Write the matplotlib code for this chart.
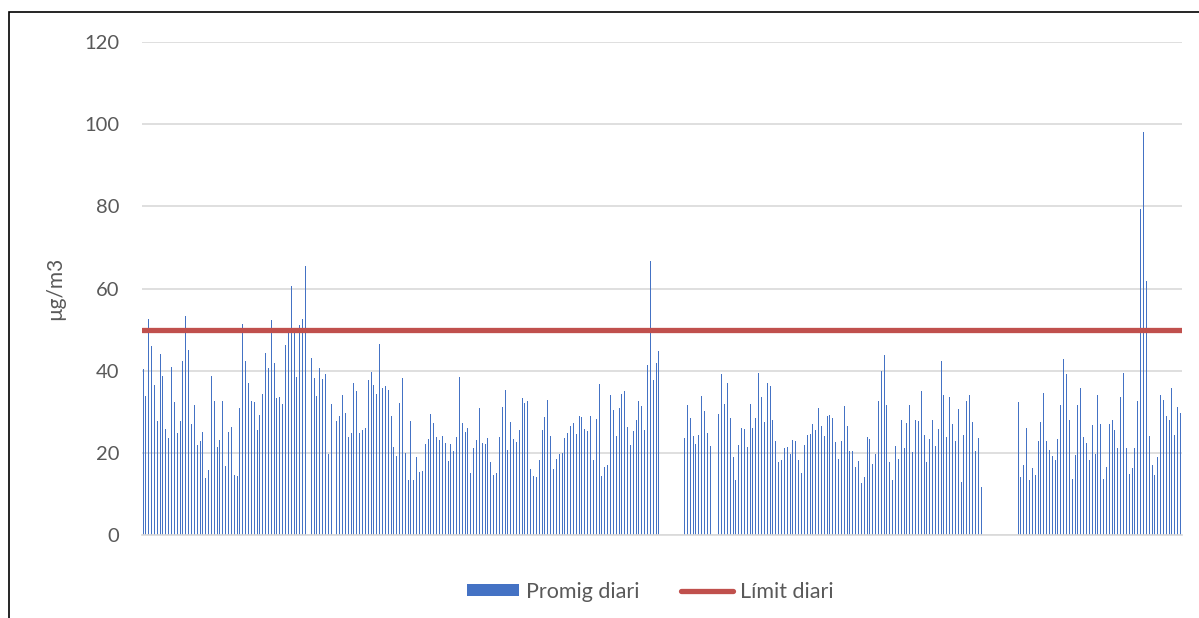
import numpy as np
import matplotlib
matplotlib.use('Agg')
import matplotlib.pyplot as plt
from matplotlib.patches import Rectangle

nan = np.nan

# daily means (ug/m3), one value per day, nan = no data
promig = [
    40.5, 33.8, 52.5, 46, 36.5, 27.7, 44, 38.8, 25.9, 23.6, 40.8, 32.3, 24.8, 27.7, 42.3, 53.3,
    45, 27.1, 31.6, 22, 22.9, 25, 13.9, 15.8, 38.7, 32.5, 21.4, 23.1, 32.6, 16.8, 25, 26.4,
    14.6, 14.4, 30.9, 51.3, 42.3,
    37.1, 32.6, 32.4, 25.5, 29.1, 34.3, 44.4, 40.6, 52.4, 41.8, 33.3, 33.6, 32, 46.3, 49.2, 60.7,
    49.5, 38.4, 51, 52.6, 65.5, nan, 43.1, 38.1, 33.8, 40.7, 38, 39.1, 19.8, 32, 32.6, 27.7,
    29, 34, 29.7, 23.8,
    24.8, 36.9, 35, 24.8, 25.5, 26, 37.7, 39.7, 36.4, 34.3, 46.5, 35.8, 36.3, 35.4, 28.9, 21.3,
    19.2, 32.1, 38.3, 20, 13.5, 27.7, 13.5, 19, 15.3, 15.6, 22.1, 23.3, 29.4, 27.3, 23.8, 23.2,
    24.1, 22.5, 18.1, 22.1,
    20.4, 23.8, 38.4, 27.3, 25, 26, 15.2, 21.1, 23.1, 30.9, 22.5, 22.1, 23.6, 17.8, 14.7, 15.1,
    23.9, 31.1, 35.2, 20.8, 27.5, 23.4, 22.6, 25.5, 33.3, 32.2, 32.6, 16, 14.4, 14.1, 18.2, 25.5,
    28.7, 32.8, 24.2, 16.1, 18.4,
    19.6, 20, 23.5, 24.9, 26.6, 27.2, 24.6, 29, 28.7, 25.8, 25.4, 29, 18.3, 28.3, 36.7, 14.4,
    16.5, 17, 34, 30.4, 24.1, 30.9, 34.4, 35, 26.4, 21.9, 25.3, 28.1, 32.7, 31.4, 25.5, 41.4,
    66.8, 37.8, 41.9, 44.8,
    nan, nan, nan, nan, nan, nan, nan, nan,
    23.5, 31.6, 28.5, 24.2, 22.1, 24.3, 33.8, 30.3, 24.9, 21.7, nan, nan, 29.4, 39.2, 32, 37.1,
    28.6, 19.1, 13.5, 21.8, 26, 25.7, 21.5, 32, 26, 28.6, 39.4, 33.6, 27.5,
    37, 36.3, 28, 23, 17.8, 18.3, 21.2, 21.4, 19.7, 23.1, 23, 18.2, 15.2, 21.9, 24.3, 24.5,
    27, 25.5, 30.9, 26.5, 24.2, 29, 29.1, 28.6, 22.6, 18.5, 22.9, 31.3, 26.5, 20.4, 20.4, 16.5,
    17.9, 12.6, 14.2, 23.8,
    23.3, 17.4, 19.7, 32.6, 39.9, 43.8, 31.6, 17.8, 13.3, 21.7, 18.4, 28.1, 21.1, 27.3, 31.6, 20.2,
    28.1, 27.8, 35, 24.3, 17.8, 23.3, 28.1, 21.7, 25.8, 42.4, 34, 23.8, 33.5, 27, 22.8, 30.7,
    13, 24.3, 32.6, 34, 27.4,
    20.4, 23.5, 11.6,
    nan, nan, nan, nan, nan, nan, nan, nan, nan, nan, nan, nan,
    32.3, 14, 17, 26, 13.3, 16.2, 14.6, 23, 27.4, 34.5, 23, 20.8, 19.2, 18.3, 23.4, 31.6,
    42.8, 39.3, 27.9, 13.6, 19.5, 31.6,
    35.7, 23.9, 22.3, 18.2, 26.8, 19.7, 34, 27, 13.6, 16.5, 27.1, 28, 25.5, 21.2, 33.6, 39.5,
    21.2, 14.8, 16.4, 21.2, 32.6, 79.3, 98.1, 61.9, 24.2, 17, 14.6, 19, 34, 32.8, 29, 28,
    35.8, 24.3, 31.1, 29.8,
]
limit = 50
yticks = [0, 20, 40, 60, 80, 100, 120]

plt.rcParams['font.family'] = ['Lato', 'DejaVu Sans']

days = np.arange(len(promig))
vals = np.array(promig, dtype=float)

fig = plt.figure(figsize=(11.99, 6.18), dpi=100)
ax = fig.add_axes([0.1181, 0.1343, 0.8677, 0.7977])

bars = ax.bar(days, np.nan_to_num(vals), width=0.35, color='#4472C4', zorder=2,
              label='Promig diari')
line, = ax.plot([-0.5, len(promig) - 0.5], [limit, limit], color='#C0504D', lw=3.8,
                solid_capstyle='round', zorder=3, label='Límit diari')

ax.set_xlim(-0.5, len(promig) - 0.5)
ax.set_ylim(0, 120)
ax.set_yticks(yticks)
ax.set_xticks([])
ax.yaxis.grid(True, color='#D9D9D9', lw=1.2, zorder=0)
ax.tick_params(axis='y', length=0, pad=16, labelsize=14.5, labelcolor='#595959')
for s in ['top', 'right', 'left']:
    ax.spines[s].set_visible(False)
ax.spines['bottom'].set_color('#D9D9D9')
ax.spines['bottom'].set_linewidth(1.2)
ax.set_ylabel('µg/m3', fontsize=15, color='#595959', labelpad=14)

fig.legend([bars, line], ['Promig diari', 'Límit diari'], loc='center',
           bbox_to_anchor=(0.5425, 1 - 592 / 618), ncol=2,
           frameon=False, fontsize=15.5, handlelength=2.4, handleheight=0.5,
           columnspacing=1.95, handletextpad=0.33, labelcolor='#595959')

# outer chart border (runs off the right and bottom of the image)
fig.patches.append(Rectangle((9 / 1199, -0.2), 1.2, 1.2 - 12 / 618,
                             transform=fig.transFigure, fill=False,
                             edgecolor='black', lw=1.2))

plt.savefig('out.png', dpi=100)
